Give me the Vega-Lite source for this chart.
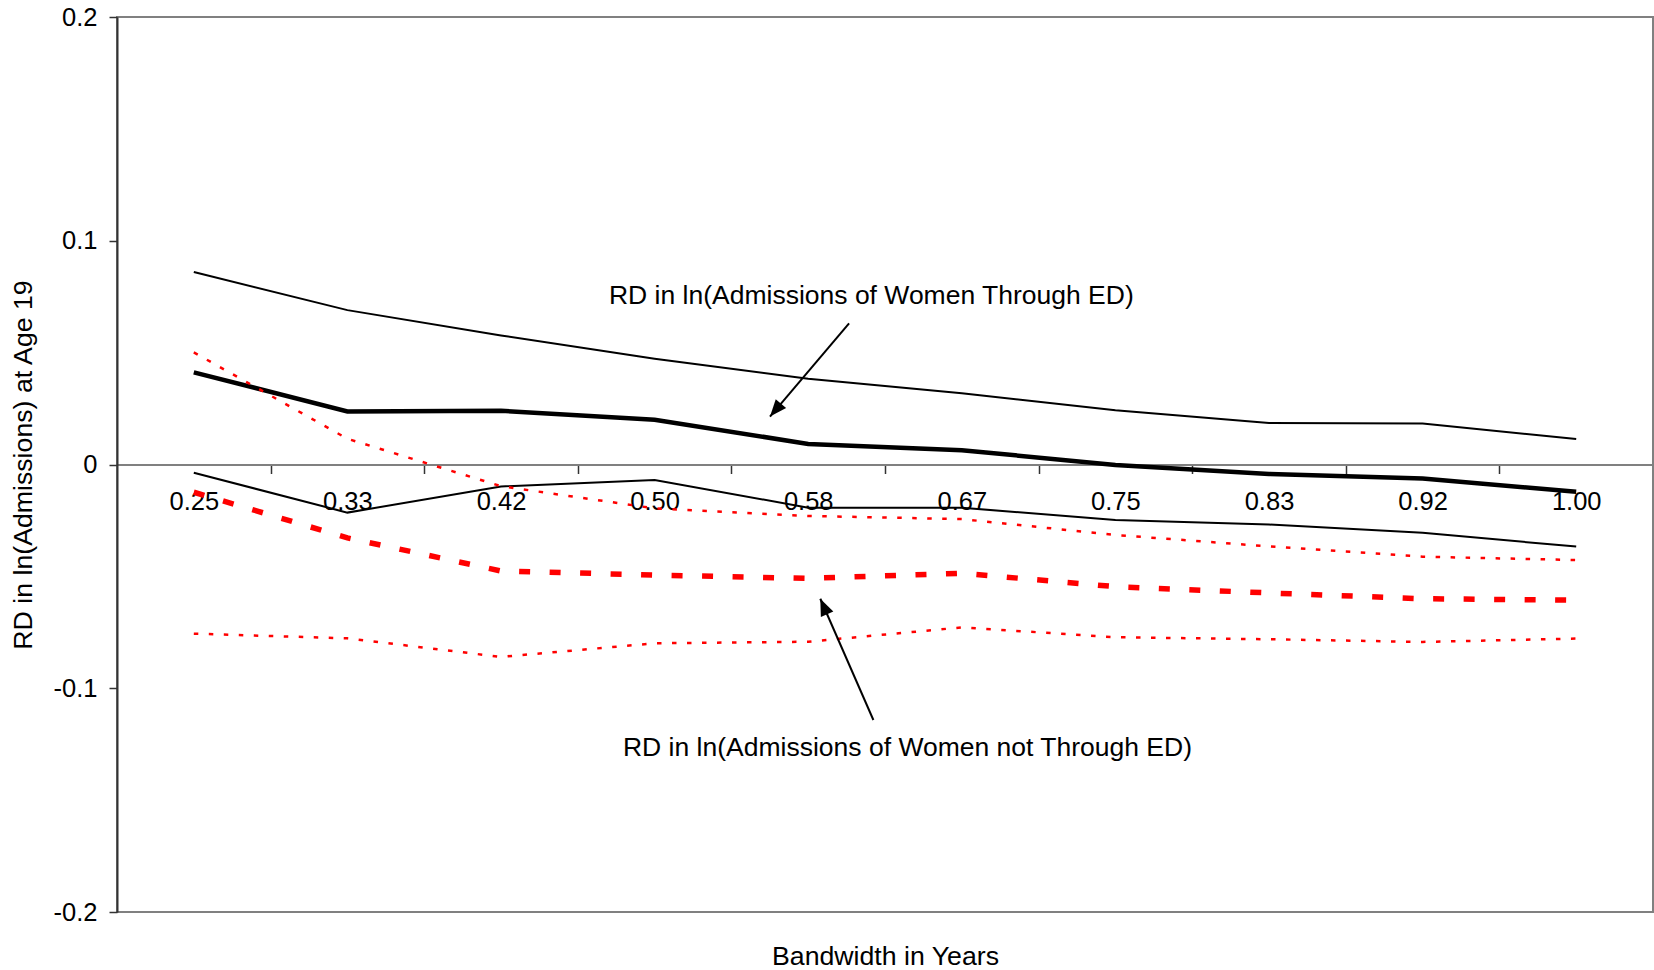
{
  "$schema": "https://vega.github.io/schema/vega-lite/v6.json",
  "width": 1536,
  "height": 895,
  "autosize": {"type": "none"},
  "padding": {"left": 117, "top": 17, "right": 1, "bottom": 58},
  "background": "white",
  "config": {
    "view": {"stroke": "#808080", "strokeWidth": 2},
    "font": "Liberation Sans",
    "axis": {
      "grid": false,
      "labelFont": "Liberation Sans",
      "titleFont": "Liberation Sans",
      "labelColor": "black",
      "titleColor": "black",
      "titleFontWeight": "normal",
      "labelFontSize": 25.5,
      "titleFontSize": 26.7
    }
  },
  "datasets": {
    "estimates": [
      {"bandwidth": 0.25, "series": "ED", "value": 0.0412},
      {"bandwidth": 0.333333, "series": "ED", "value": 0.0237},
      {"bandwidth": 0.416667, "series": "ED", "value": 0.0240},
      {"bandwidth": 0.5, "series": "ED", "value": 0.0200},
      {"bandwidth": 0.583333, "series": "ED", "value": 0.0092},
      {"bandwidth": 0.666667, "series": "ED", "value": 0.0064},
      {"bandwidth": 0.75, "series": "ED", "value": -0.0002},
      {"bandwidth": 0.833333, "series": "ED", "value": -0.0042},
      {"bandwidth": 0.916667, "series": "ED", "value": -0.0063},
      {"bandwidth": 1.0, "series": "ED", "value": -0.0122},

      {"bandwidth": 0.25, "series": "ED upper", "value": 0.0860},
      {"bandwidth": 0.333333, "series": "ED upper", "value": 0.0690},
      {"bandwidth": 0.416667, "series": "ED upper", "value": 0.0577},
      {"bandwidth": 0.5, "series": "ED upper", "value": 0.0473},
      {"bandwidth": 0.583333, "series": "ED upper", "value": 0.0383},
      {"bandwidth": 0.666667, "series": "ED upper", "value": 0.0318},
      {"bandwidth": 0.75, "series": "ED upper", "value": 0.0242},
      {"bandwidth": 0.833333, "series": "ED upper", "value": 0.0185},
      {"bandwidth": 0.916667, "series": "ED upper", "value": 0.0183},
      {"bandwidth": 1.0, "series": "ED upper", "value": 0.0114},

      {"bandwidth": 0.25, "series": "ED lower", "value": -0.0037},
      {"bandwidth": 0.333333, "series": "ED lower", "value": -0.0215},
      {"bandwidth": 0.416667, "series": "ED lower", "value": -0.0098},
      {"bandwidth": 0.5, "series": "ED lower", "value": -0.0069},
      {"bandwidth": 0.583333, "series": "ED lower", "value": -0.0193},
      {"bandwidth": 0.666667, "series": "ED lower", "value": -0.0193},
      {"bandwidth": 0.75, "series": "ED lower", "value": -0.0248},
      {"bandwidth": 0.833333, "series": "ED lower", "value": -0.0268},
      {"bandwidth": 0.916667, "series": "ED lower", "value": -0.0305},
      {"bandwidth": 1.0, "series": "ED lower", "value": -0.0367},

      {"bandwidth": 0.25, "series": "Non-ED", "value": -0.0124},
      {"bandwidth": 0.333333, "series": "Non-ED", "value": -0.0328},
      {"bandwidth": 0.416667, "series": "Non-ED", "value": -0.0476},
      {"bandwidth": 0.5, "series": "Non-ED", "value": -0.0494},
      {"bandwidth": 0.583333, "series": "Non-ED", "value": -0.0509},
      {"bandwidth": 0.666667, "series": "Non-ED", "value": -0.0486},
      {"bandwidth": 0.75, "series": "Non-ED", "value": -0.0546},
      {"bandwidth": 0.833333, "series": "Non-ED", "value": -0.0574},
      {"bandwidth": 0.916667, "series": "Non-ED", "value": -0.0600},
      {"bandwidth": 1.0, "series": "Non-ED", "value": -0.0606},

      {"bandwidth": 0.25, "series": "Non-ED upper", "value": 0.0501},
      {"bandwidth": 0.333333, "series": "Non-ED upper", "value": 0.0115},
      {"bandwidth": 0.416667, "series": "Non-ED upper", "value": -0.0097},
      {"bandwidth": 0.5, "series": "Non-ED upper", "value": -0.0196},
      {"bandwidth": 0.583333, "series": "Non-ED upper", "value": -0.0230},
      {"bandwidth": 0.666667, "series": "Non-ED upper", "value": -0.0244},
      {"bandwidth": 0.75, "series": "Non-ED upper", "value": -0.0315},
      {"bandwidth": 0.833333, "series": "Non-ED upper", "value": -0.0366},
      {"bandwidth": 0.916667, "series": "Non-ED upper", "value": -0.0412},
      {"bandwidth": 1.0, "series": "Non-ED upper", "value": -0.0427},

      {"bandwidth": 0.25, "series": "Non-ED lower", "value": -0.0756},
      {"bandwidth": 0.333333, "series": "Non-ED lower", "value": -0.0777},
      {"bandwidth": 0.416667, "series": "Non-ED lower", "value": -0.0860},
      {"bandwidth": 0.5, "series": "Non-ED lower", "value": -0.0799},
      {"bandwidth": 0.583333, "series": "Non-ED lower", "value": -0.0792},
      {"bandwidth": 0.666667, "series": "Non-ED lower", "value": -0.0728},
      {"bandwidth": 0.75, "series": "Non-ED lower", "value": -0.0772},
      {"bandwidth": 0.833333, "series": "Non-ED lower", "value": -0.0781},
      {"bandwidth": 0.916667, "series": "Non-ED lower", "value": -0.0793},
      {"bandwidth": 1.0, "series": "Non-ED lower", "value": -0.0778}
    ],
    "arrows": [
      {"arrow": "ED", "end": "tail", "bandwidth": 0.6055, "value": 0.0631},
      {"arrow": "ED", "end": "head", "bandwidth": 0.5626, "value": 0.0214},
      {"arrow": "Non-ED", "end": "tail", "bandwidth": 0.6187, "value": -0.1142},
      {"arrow": "Non-ED", "end": "head", "bandwidth": 0.5899, "value": -0.0600}
    ],
    "notes": [
      {"label": "RD in ln(Admissions of Women Through ED)", "bandwidth": 0.6176, "value": 0.0753},
      {"label": "RD in ln(Admissions of Women not Through ED)", "bandwidth": 0.6372, "value": -0.1267}
    ]
  },
  "data": {"name": "estimates"},
  "encoding": {
    "x": {
      "field": "bandwidth",
      "type": "quantitative",
      "scale": {"domain": [0.208333, 1.041667], "nice": false, "zero": false},
      "axis": {
        "orient": "bottom",
        "offset": -447.5,
        "values": [0.25, 0.291667, 0.333333, 0.375, 0.416667, 0.458333, 0.5, 0.541667, 0.583333, 0.625, 0.666667, 0.708333, 0.75, 0.791667, 0.833333, 0.875, 0.916667, 0.958333, 1.0],
        "labelExpr": "abs(datum.value * 12 - round(datum.value * 12)) < 0.01 ? format(datum.value, '.2f') : ''",
        "tickOpacity": {"condition": {"test": "abs(datum.value * 12 - round(datum.value * 12)) < 0.01", "value": 0}, "value": 1},
        "tickSize": 9,
        "tickColor": "#333333",
        "tickWidth": 1.5,
        "domainColor": "#808080",
        "domainWidth": 2,
        "labelPadding": 16,
        "labelFlush": false,
        "labelOverlap": false,
        "labelBound": false,
        "title": "Bandwidth in Years",
        "titleX": 768,
        "titleY": 492,
        "titleAlign": "center",
        "titleBaseline": "middle"
      }
    },
    "y": {
      "field": "value",
      "type": "quantitative",
      "scale": {"domain": [-0.2, 0.2], "nice": false, "zero": false},
      "axis": {
        "values": [-0.2, -0.1, 0, 0.1, 0.2],
        "labelExpr": "datum.value == 0 ? '0' : (datum.value < 0 ? '-' : '') + format(abs(datum.value), '.1f')",
        "tickSize": 8,
        "tickColor": "#333333",
        "tickWidth": 1.5,
        "domainColor": "#333333",
        "domainWidth": 2,
        "labelPadding": 12,
        "title": "RD in ln(Admissions) at Age 19",
        "titleX": -94,
        "titleY": 447.5,
        "titleAngle": -90,
        "titleAlign": "center",
        "titleBaseline": "middle"
      }
    }
  },
  "layer": [
    {
      "transform": [{"filter": "datum.series == 'ED upper'"}],
      "mark": {"type": "line", "color": "black", "strokeWidth": 2}
    },
    {
      "transform": [{"filter": "datum.series == 'ED lower'"}],
      "mark": {"type": "line", "color": "black", "strokeWidth": 2}
    },
    {
      "transform": [{"filter": "datum.series == 'ED'"}],
      "mark": {"type": "line", "color": "black", "strokeWidth": 4.5}
    },
    {
      "transform": [{"filter": "datum.series == 'Non-ED upper'"}],
      "mark": {"type": "line", "color": "#ff0000", "strokeWidth": 2.5, "strokeDash": [4.5, 10.5], "strokeCap": "butt"}
    },
    {
      "transform": [{"filter": "datum.series == 'Non-ED lower'"}],
      "mark": {"type": "line", "color": "#ff0000", "strokeWidth": 2.5, "strokeDash": [4.5, 10.5], "strokeCap": "butt"}
    },
    {
      "transform": [{"filter": "datum.series == 'Non-ED'"}],
      "mark": {"type": "line", "color": "#ff0000", "strokeWidth": 5.5, "strokeDash": [11, 19.5], "strokeCap": "butt"}
    },
    {
      "data": {"name": "arrows"},
      "mark": {"type": "line", "color": "black", "strokeWidth": 2},
      "encoding": {"detail": {"field": "arrow"}}
    },
    {
      "data": {"name": "arrows"},
      "transform": [{"filter": "datum.arrow == 'ED' && datum.end == 'head'"}],
      "mark": {"type": "point", "shape": "M0,0L-0.4,1L0.4,1Z", "size": 1156, "angle": 220.2, "filled": true, "color": "black", "opacity": 1, "strokeWidth": 0}
    },
    {
      "data": {"name": "arrows"},
      "transform": [{"filter": "datum.arrow == 'Non-ED' && datum.end == 'head'"}],
      "mark": {"type": "point", "shape": "M0,0L-0.4,1L0.4,1Z", "size": 1156, "angle": 336.4, "filled": true, "color": "black", "opacity": 1, "strokeWidth": 0}
    },
    {
      "data": {"name": "notes"},
      "mark": {"type": "text", "font": "Liberation Sans", "fontSize": 26.5, "align": "center", "baseline": "middle", "color": "black"},
      "encoding": {"text": {"field": "label"}}
    }
  ]
}
